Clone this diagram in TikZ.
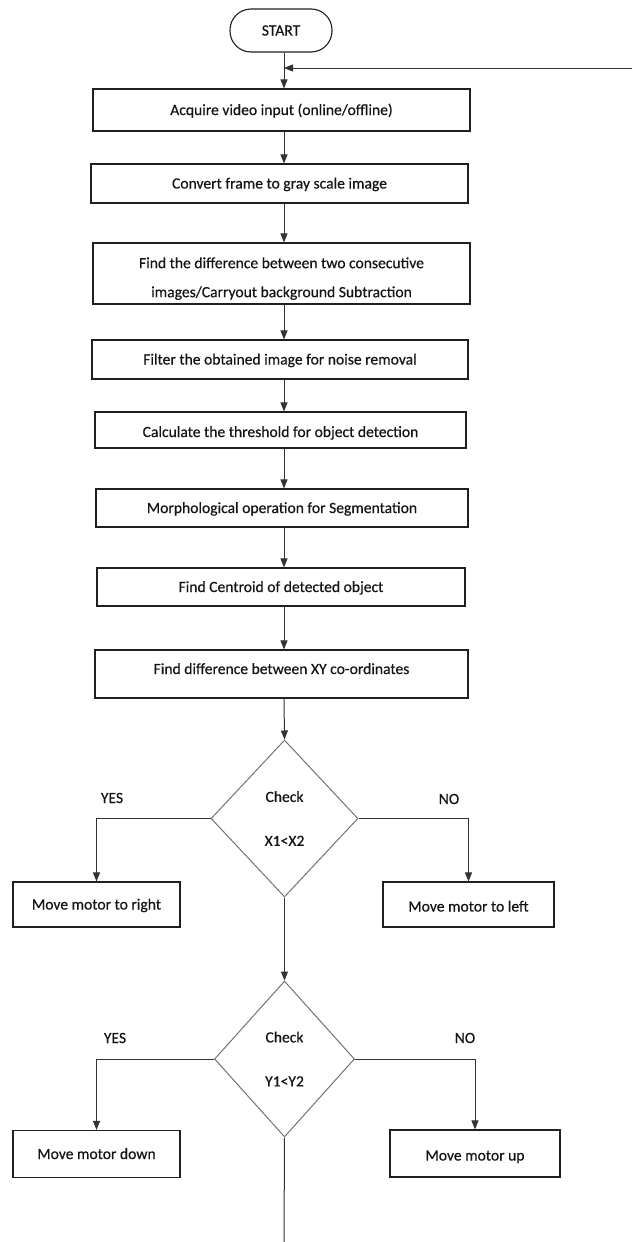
\documentclass[tikz,border=0pt]{standalone}
\usepackage{fontspec}
\setmainfont{Carlito}[FakeBold=0.4]
\usetikzlibrary{arrows.meta,shapes.geometric}
\tikzset{
  txt/.style={font=\fontsize{15.6}{19}\selectfont, text=black!92},
  box/.style={txt, draw=black!88, line width=1.1pt, rectangle, inner sep=0pt,
              text height=12pt, text depth=2pt, align=center},
  term/.style={box, rounded corners=21pt},
  decision/.style={txt, draw=black!55, line width=1pt, diamond, inner sep=0pt,
                   align=center, font=\fontsize{15.6}{44}\selectfont},
  conn/.style={draw=black!80, line width=1pt},
  arr/.style={conn, -{Triangle[length=9pt,width=7pt]}},
  lbl/.style={txt, inner sep=0pt}
}
\begin{document}
\begin{tikzpicture}[x=1pt,y=-1pt]
\useasboundingbox (0,0) rectangle (632,1242);
\coordinate (cx) at (284,0);
\coordinate (fb) at (632,68);
\coordinate (end) at (284,1242);

\node[term, minimum width=102pt, minimum height=43pt] (start) at (281,30.5) {START};
\node[box, minimum width=377pt, minimum height=42pt] (b1) at (281.5,110) {Acquire video input (online/offline)};
\node[box, minimum width=377pt, minimum height=39pt] (b2) at (279.5,183.5) {Convert frame to gray scale image};
\node[box, minimum width=377pt, minimum height=61pt, text height=, text depth=,
      font=\fontsize{15.6}{29}\selectfont] (b3) at (281.5,273.5)
      {\rule{0pt}{21pt}Find the difference between two consecutive\\images/Carryout background Subtraction};
\node[box, minimum width=376pt, minimum height=39pt] (b4) at (280,359.5) {Filter the obtained image for noise removal};
\node[box, minimum width=371pt, minimum height=36pt, text height=14pt, text depth=0pt] (b5) at (280.5,430) {Calculate the threshold for object detection};
\node[box, minimum width=372pt, minimum height=38pt] (b6) at (282,508) {Morphological operation for Segmentation};
\node[box, minimum width=368pt, minimum height=38pt] (b7) at (281,587) {Find Centroid of detected object};
\node[box, minimum width=373pt, minimum height=48pt, text height=12pt, text depth=12pt] (b8) at (281.5,674) {Find difference between XY co-ordinates};

\node[decision, minimum width=147pt, minimum height=157pt] (d1) at (284.5,818.5) {Check\\X1<X2};
\node[box, minimum width=167pt, minimum height=45pt] (r1) at (96.5,904.5) {Move motor to right};
\node[box, minimum width=171pt, minimum height=45pt, text height=14pt, text depth=0pt] (l1) at (468.5,904.5) {Move motor to left};
\node[lbl] (yes1) at (112,798) {YES};
\node[lbl] (no1) at (449,799) {NO};

\node[decision, minimum width=140pt, minimum height=156pt] (d2) at (284.5,1059) {Check\\Y1<Y2};
\node[box, minimum width=167pt, minimum height=47pt] (dn) at (96.5,1154) {Move motor down};
\node[box, minimum width=170pt, minimum height=47pt, text height=14pt, text depth=0pt] (up) at (475,1153.5) {Move motor up};
\node[lbl] (yes2) at (115,1038) {YES};
\node[lbl] (no2) at (465,1038) {NO};

\draw[arr] (start.south -| cx) -- (b1.north -| cx);
\draw[arr] (fb) -- (fb -| cx);
\draw[arr] (b1.south -| cx) -- (b2.north -| cx);
\draw[arr] (b2.south -| cx) -- (b3.north -| cx);
\draw[arr] (b3.south -| cx) -- (b4.north -| cx);
\draw[arr] (b4.south -| cx) -- (b5.north -| cx);
\draw[arr] (b5.south -| cx) -- (b6.north -| cx);
\draw[arr] (b6.south -| cx) -- (b7.north -| cx);
\draw[arr] (b7.south -| cx) -- (b8.north -| cx);
\draw[arr] (b8.south -| cx) -- (d1.north);
\draw[arr] (d1.west) -| (r1.north);
\draw[arr] (d1.east) -| (l1.north);
\draw[arr] (d1.south) -- (d2.north);
\draw[arr] (d2.west) -| (dn.north);
\draw[arr] (d2.east) -| (up.north);
\draw[conn] (d2.south) -- (end);
\end{tikzpicture}
\end{document}
